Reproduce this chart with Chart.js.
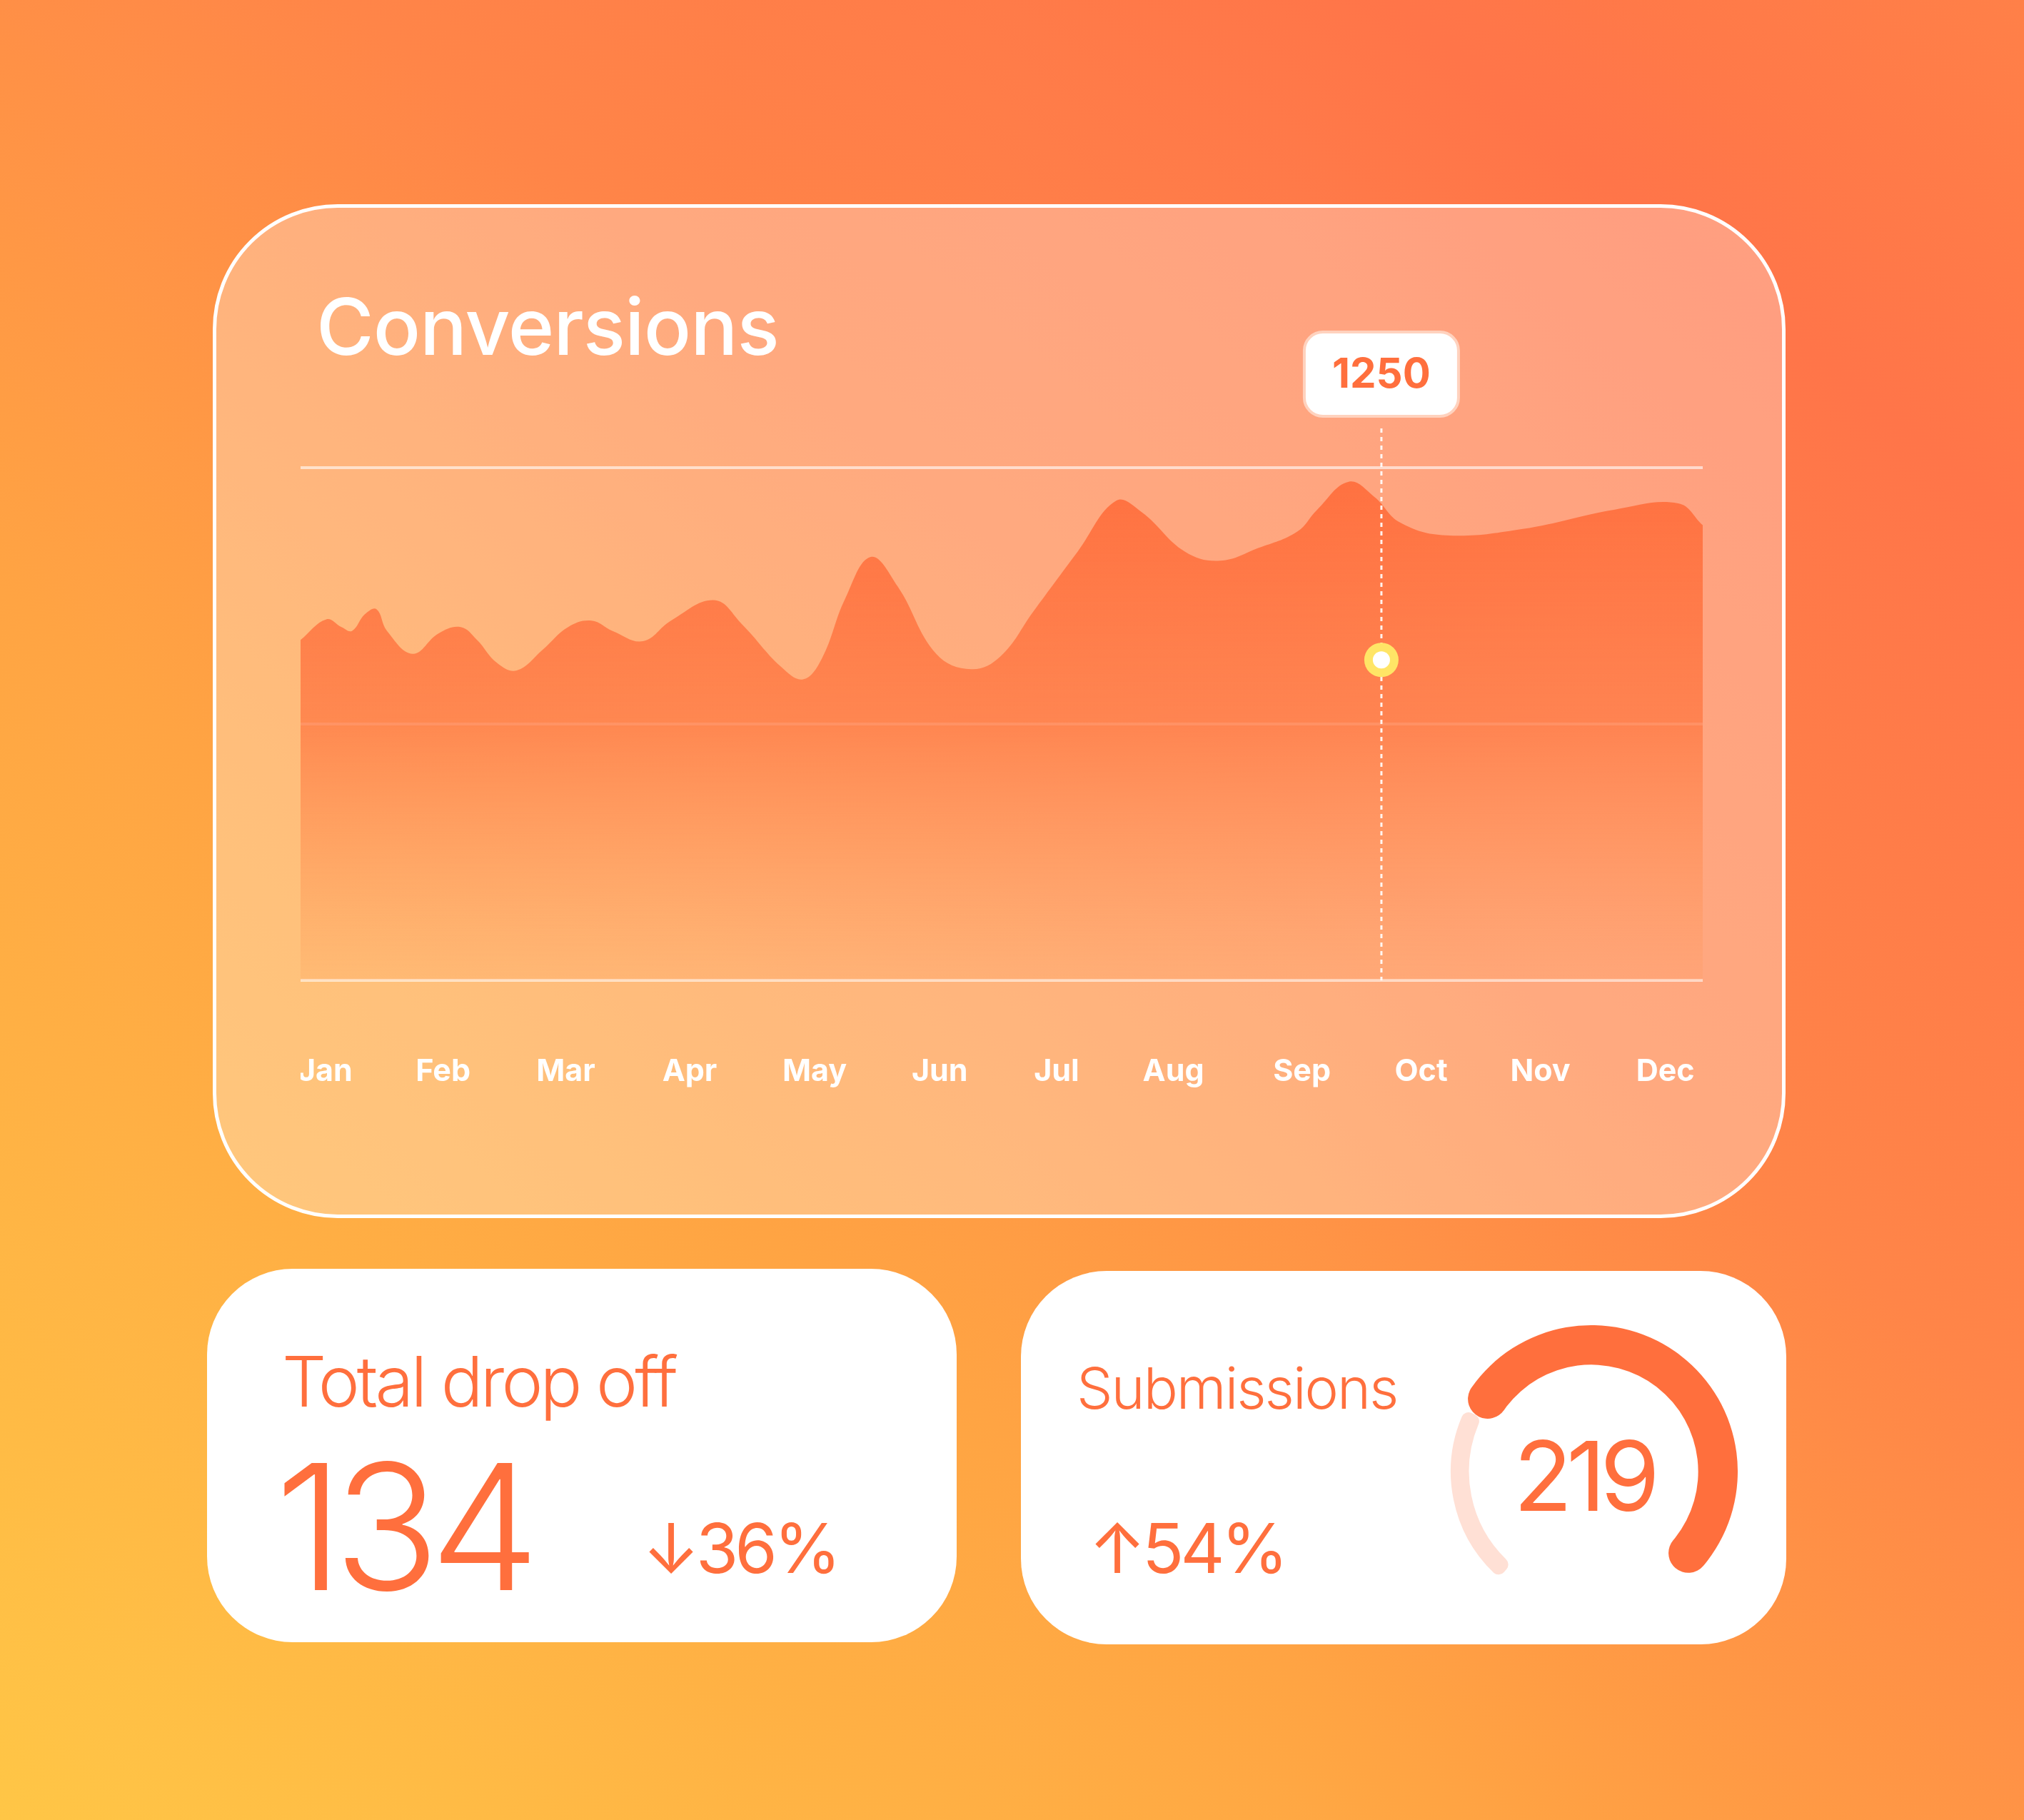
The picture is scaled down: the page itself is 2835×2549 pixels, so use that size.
<!DOCTYPE html>
<html>
<head>
<meta charset="utf-8">
<script src="https://cdn.jsdelivr.net/npm/chart.js@4.4.1/dist/chart.umd.min.js"></script>
<style>
  html, body { margin: 0; padding: 0; }
  body {
    width: 2835px; height: 2549px; position: relative; overflow: hidden;
    background: linear-gradient(40deg, #FFC646 0%, #FFA443 35%, #FF8548 60%, #FF7549 85%, #FF8048 100%);
    font-family: "Inter", "Open Sans", sans-serif;
  }
  .card { position: absolute; box-sizing: border-box; }
  #main {
    left: 298px; top: 286px; width: 2203px; height: 1420px; border-radius: 175px;
    border: 5px solid #fff; background: rgba(255,255,255,0.30);
  }
  #title { position: absolute; left: 443px; top: 390px; font-size: 110px; font-weight: 500; color: #fff; letter-spacing: -1px; }
  .white { background: #fff; border-radius: 120px; }
  #drop { left: 290px; top: 1777px; width: 1050px; height: 523px; }
  #subs { left: 1430px; top: 1780px; width: 1072px; height: 523px; }
  .txt { position: absolute; color: #FF6F3D; white-space: nowrap; }
  canvas { position: absolute; }
</style>
</head>
<body>
<div class="card" id="main"></div>
<div id="title">Conversions</div>
<div class="card white" id="drop"></div>
<div class="card white" id="subs"></div>

<div class="txt" style="left:395px;top:1875px;font-size:98px;font-weight:300;letter-spacing:-4px;">Total drop off</div>
<div class="txt" style="left:385px;top:1990px;font-size:245px;font-weight:300;letter-spacing:-14px;">134</div>
<div class="txt" style="left:900px;top:2110px;font-size:96px;font-weight:400;letter-spacing:-5px;">↓36%</div>
<div class="txt" style="left:1508px;top:1895px;font-size:80px;font-weight:300;letter-spacing:-2px;">Submissions</div>
<div class="txt" style="left:1525px;top:2110px;font-size:96px;font-weight:400;letter-spacing:-5px;">↑54%</div>
<div class="txt" style="left:2120px;top:1985px;font-size:135px;font-weight:400;letter-spacing:-8px;">219</div>

<canvas id="conv" width="1964" height="1150" style="left:421px;top:430px;width:1964px;height:1150px;"></canvas>
<canvas id="gaugeLight" width="410" height="410" style="left:2024px;top:1856px;width:410px;height:410px;"></canvas>
<canvas id="gaugeMain" width="410" height="410" style="left:2024px;top:1856px;width:410px;height:410px;"></canvas>

<script>
// ---------------- DATA ----------------
const months = ["Jan", "Feb", "Mar", "Apr", "May", "Jun", "Jul", "Aug", "Sep", "Oct", "Nov", "Dec"];
const monthPos = [0.21, 1.22, 2.27, 3.33, 4.4, 5.47, 6.47, 7.47, 8.57, 9.59, 10.61, 11.68];
const convX = [0, 0.22, 0.35, 0.44, 0.55, 0.65, 0.74, 0.96, 1.18, 1.37, 1.51, 1.68, 1.85, 2.07, 2.29, 2.49,
  2.67, 2.93, 3.17, 3.54, 3.78, 4.11, 4.30, 4.46, 4.66, 4.88, 5.11, 5.44, 5.74, 5.99, 6.27, 6.65, 6.98,
  7.20, 7.57, 7.87, 8.20, 8.53, 8.70, 8.97, 9.19, 9.41, 9.80, 10.46, 11.24, 11.79, 12.0];
const convY = [1328, 1408, 1378, 1363, 1428, 1448, 1363, 1274, 1353, 1378, 1328, 1239, 1209, 1289, 1378, 1403,
  1363, 1323, 1403, 1483, 1388, 1224, 1174, 1254, 1488, 1652, 1537, 1274, 1214, 1264, 1438, 1672, 1871,
  1826, 1672, 1637, 1687, 1751, 1836, 1945, 1886, 1786, 1736, 1761, 1836, 1861, 1776];
const gridTicks = [0, 1000, 2000];
const markerX = 9.25;
const markerValue = 1250;
const submissions = 219;
const submissionsMax = 300;

const ORANGE = "#FF6F3D";

// ---------------- CONVERSIONS CHART ----------------
const markerPlugin = {
  id: "marker",
  afterDraw(chart) {
    const { ctx, scales: { x, y }, chartArea } = chart;
    ctx.save();
    // month labels
    ctx.fillStyle = "#fff";
    ctx.font = "700 43px Inter, sans-serif";
    ctx.textAlign = "center";
    ctx.textBaseline = "middle";
    months.forEach((m, i) => ctx.fillText(m, x.getPixelForValue(monthPos[i]), chartArea.bottom + 128));

    const px = x.getPixelForValue(markerX);
    ctx.strokeStyle = "rgba(255,255,255,0.9)";
    ctx.lineWidth = 3;
    ctx.setLineDash([6, 6]);
    ctx.beginPath();
    ctx.moveTo(px, chartArea.top - 55);
    ctx.lineTo(px, chartArea.bottom);
    ctx.stroke();
    ctx.setLineDash([]);
    // label box
    const w = 216, h = 118, by = chartArea.top - 190;
    ctx.fillStyle = "#fff";
    ctx.strokeStyle = "rgba(255,210,190,1)";
    ctx.lineWidth = 4;
    ctx.beginPath();
    ctx.roundRect(px - w / 2, by, w, h, 26);
    ctx.fill();
    ctx.stroke();
    ctx.fillStyle = ORANGE;
    ctx.font = "700 58px Inter, sans-serif";
    ctx.fillText(String(markerValue), px, by + h / 2 + 2);
    // point
    const py = y.getPixelForValue(markerValue);
    ctx.fillStyle = "#FFE566";
    ctx.beginPath(); ctx.arc(px, py, 24, 0, Math.PI * 2); ctx.fill();
    ctx.fillStyle = "#fff";
    ctx.beginPath(); ctx.arc(px, py, 12, 0, Math.PI * 2); ctx.fill();
    ctx.restore();
  }
};

new Chart(document.getElementById("conv"), {
  type: "line",
  data: {
    datasets: [{
      data: convX.map((v, i) => ({ x: v, y: convY[i] })),
      borderWidth: 0,
      pointRadius: 0,
      tension: 0.4,
      fill: "origin",
      backgroundColor: (c) => {
        const a = c.chart.chartArea;
        if (!a) return "#FF7A45";
        const g = c.chart.ctx.createLinearGradient(0, a.top, 0, a.bottom);
        g.addColorStop(0, "rgba(255,112,64,1)");
        g.addColorStop(0.5, "rgba(255,120,66,0.75)");
        g.addColorStop(1, "rgba(255,150,80,0.15)");
        return g;
      }
    }]
  },
  options: {
    responsive: false,
    devicePixelRatio: 1,
    animation: false,
    layout: { padding: { top: 225, left: 0, right: 0, bottom: 199 } },
    plugins: { legend: { display: false }, tooltip: { enabled: false } },
    scales: {
      x: {
        type: "linear", min: 0, max: 12,
        grid: { display: false }, border: { display: false },
        ticks: { display: false }
      },
      y: {
        min: 0, max: 2000, z: 1,
        afterBuildTicks: (s) => { s.ticks = gridTicks.map(v => ({ value: v })); },
        afterFit: (s) => { s.width = 0; },
        grid: { color: "rgba(255,255,255,0.6)", lineWidth: 4, drawTicks: false },
        border: { display: false },
        ticks: { display: false }
      }
    }
  },
  plugins: [markerPlugin]
});

// ---------------- GAUGE ----------------
const gaugeSweep = 278;
const gapValue = submissionsMax * (360 - gaugeSweep) / gaugeSweep;

new Chart(document.getElementById("gaugeMain"), {
  type: "doughnut",
  data: { datasets: [{
    data: [submissionsMax - submissions, submissions, gapValue],
    backgroundColor: ["rgba(0,0,0,0)", ORANGE, "rgba(0,0,0,0)"],
    borderWidth: 0, borderRadius: [0, 30, 0]
  }] },
  options: {
    responsive: false, devicePixelRatio: 1, animation: false, rotation: -139, cutout: "73%",
    plugins: { legend: { display: false }, tooltip: { enabled: false } }
  }
});

new Chart(document.getElementById("gaugeLight"), {
  type: "doughnut",
  data: { datasets: [{
    data: [submissionsMax - submissions, submissions, gapValue],
    backgroundColor: ["#FFE0D5", "rgba(0,0,0,0)", "rgba(0,0,0,0)"],
    borderWidth: 0, borderRadius: [10, 0, 0]
  }] },
  options: {
    responsive: false, devicePixelRatio: 1, animation: false, rotation: -139, cutout: "87%",
    layout: { padding: 8 },
    plugins: { legend: { display: false }, tooltip: { enabled: false } }
  }
});
</script>
</body>
</html>
